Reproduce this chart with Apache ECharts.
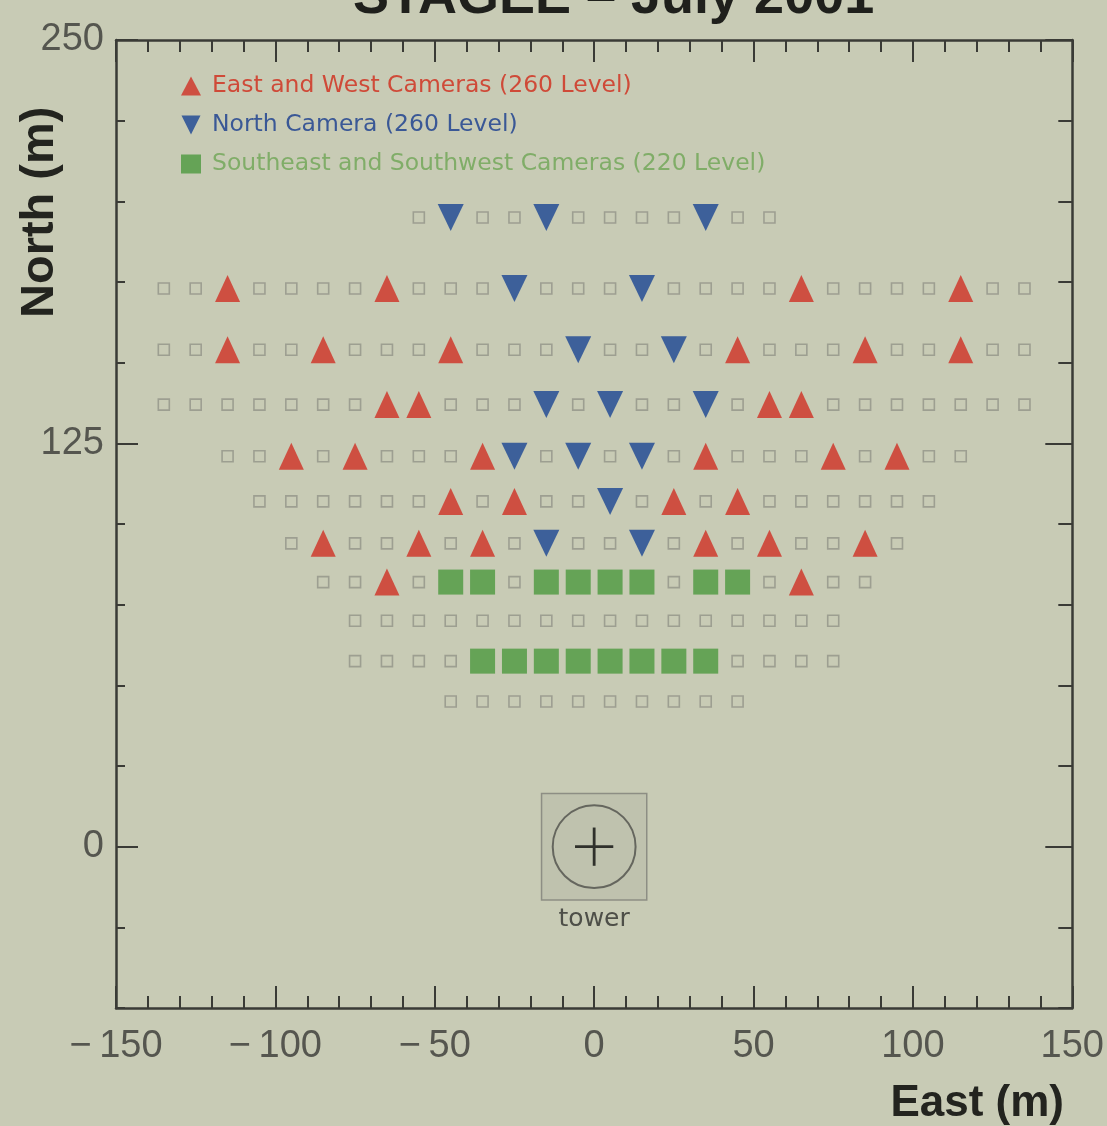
<!DOCTYPE html>
<html>
<head>
<meta charset="utf-8">
<script src="https://cdn.jsdelivr.net/npm/echarts@6/dist/echarts.min.js"></script>
<style>
  html, body { margin: 0; padding: 0; background: #c8cbb5; }
  #chart { width: 1107px; height: 1126px; }
</style>
</head>
<body>
<div id="chart"></div>
<script>
// ---------------- data (metres east / north of the tower) ----------------
const titleText = 'STAGEE \u2013 July 2001';
const xTickLabels = [-150, -100, -50, 0, 50, 100, 150];
const yTickLabels = [0, 125, 250];

const legendNames = [
  'East and West Cameras (260 Level)',
  'North Camera (260 Level)',
  'Southeast and Southwest Cameras (220 Level)'
];

// red upward triangles
const eastWestCams = [
  [-115,173],[-65,173],[65,173],[115,173],
  [-115,154],[-85,154],[-45,154],[45,154],[85,154],[115,154],
  [-65,137],[-55,137],[55,137],[65,137],
  [-95,121],[-75,121],[-35,121],[35,121],[75,121],[95,121],
  [-45,107],[-25,107],[25,107],[45,107],
  [-85,94],[-55,94],[-35,94],[35,94],[55,94],[85,94],
  [-65,82],[65,82]
];
// blue downward triangles
const northCams = [
  [-45,195],[-15,195],[35,195],
  [-25,173],[15,173],
  [-5,154],[25,154],
  [-15,137],[5,137],[35,137],
  [-25,121],[-5,121],[15,121],
  [5,107],
  [-15,94],[15,94]
];
// green filled squares
const southCams = [
  [-45,82],[-35,82],[-15,82],[-5,82],[5,82],[15,82],[35,82],[45,82],
  [-35,57.5],[-25,57.5],[-15,57.5],[-5,57.5],[5,57.5],[15,57.5],[25,57.5],[35,57.5]
];
// hollow sampler squares, row by row
const samplerRowY = [195, 173, 154, 137, 121, 107, 94, 82, 70, 57.5, 45];
const samplerRowX = [
  [-55,-35,-25,-5,5,15,25,45,55],
  [-135,-125,-105,-95,-85,-75,-55,-45,-35,-15,-5,5,25,35,45,55,75,85,95,105,125,135],
  [-135,-125,-105,-95,-75,-65,-55,-35,-25,-15,5,15,35,55,65,75,95,105,125,135],
  [-135,-125,-115,-105,-95,-85,-75,-45,-35,-25,-5,15,25,45,75,85,95,105,115,125,135],
  [-115,-105,-85,-65,-55,-45,-15,5,25,45,55,65,85,105,115],
  [-105,-95,-85,-75,-65,-55,-35,-15,-5,15,35,55,65,75,85,95,105],
  [-95,-75,-65,-45,-25,-5,5,25,45,65,75,95],
  [-85,-75,-55,-25,25,55,75,85],
  [-75,-65,-55,-45,-35,-25,-15,-5,5,15,25,35,45,55,65,75],
  [-75,-65,-55,-45,45,55,65,75],
  [-45,-35,-25,-15,-5,5,15,25,35,45]
];
const towerPos = [[0, 0]];
const towerLabel = 'tower';

// ---------------- build ----------------
const samplers = [];
samplerRowY.forEach((y, i) => samplerRowX[i].forEach(x => samplers.push([x, y])));

const fmtMinus = v => String(v).replace('-', '\u2212\u2009');
const downTri = 'path://M0,0L20,0L10,20Z';
const axisColor = '#3a3b36';
const labelColor = '#55564f';

function yAxisDef(extra) {
  return Object.assign({
    type: 'value', min: -50, max: 250, interval: 25,
    splitLine: { show: false },
    axisLine: { show: true, onZero: false, lineStyle: { color: axisColor, width: 2.5 } }
  }, extra);
}

const chart = echarts.init(document.getElementById('chart'), null, { renderer: 'canvas' });
chart.setOption({
  backgroundColor: '#c8cbb5',
  animation: false,
  title: {
    text: titleText, left: 348, top: -34,
    textStyle: { fontFamily: 'Liberation Sans', fontWeight: 'bold', fontSize: 54, color: '#1f201c' }
  },
  grid: { left: 116, right: 28, top: 40, bottom: 118, containLabel: false },
  legend: {
    orient: 'vertical', left: 176, top: 69, itemGap: 15, itemWidth: 20, itemHeight: 19,
    textStyle: { fontFamily: 'DejaVu Sans', fontSize: 23.5, padding: [0, 0, 0, 6] },
    data: [
      { name: legendNames[0], textStyle: { color: '#cf4a38' } },
      { name: legendNames[1], textStyle: { color: '#3a5896' } },
      { name: legendNames[2], textStyle: { color: '#80ad68' } }
    ]
  },
  xAxis: [
    {
      type: 'value', position: 'bottom', min: -150, max: 150, interval: 50,
      splitLine: { show: false },
      axisLine: { onZero: false, lineStyle: { color: axisColor, width: 2.5 } },
      axisTick: { inside: true, length: 22, lineStyle: { color: axisColor, width: 2 } },
      minorTick: { show: true, splitNumber: 5, length: 12, lineStyle: { color: axisColor, width: 2 } },
      axisLabel: { formatter: fmtMinus, fontFamily: 'Liberation Sans', fontSize: 38, color: labelColor, margin: 20,
                   customValues: xTickLabels }
    },
    {
      type: 'value', position: 'top', min: -150, max: 150, interval: 50,
      splitLine: { show: false },
      axisLine: { onZero: false, lineStyle: { color: axisColor, width: 2.5 } },
      axisTick: { inside: true, length: 22, lineStyle: { color: axisColor, width: 2 } },
      minorTick: { show: true, splitNumber: 5, length: 12, lineStyle: { color: axisColor, width: 2 } },
      axisLabel: { show: false }
    }
  ],
  yAxis: [
    yAxisDef({
      position: 'left',
      axisTick: { inside: true, length: 9, lineStyle: { color: axisColor, width: 2 } },
      axisLabel: { customValues: yTickLabels, fontFamily: 'Liberation Sans', fontSize: 38, color: labelColor, margin: 12 }
    }),
    yAxisDef({
      position: 'left',
      axisLine: { show: false, onZero: false },
      axisTick: { inside: true, length: 22, customValues: yTickLabels, lineStyle: { color: axisColor, width: 2 } },
      axisLabel: { show: false }
    }),
    yAxisDef({
      position: 'right',
      axisTick: { inside: true, length: 14, lineStyle: { color: axisColor, width: 2 } },
      axisLabel: { show: false }
    }),
    yAxisDef({
      position: 'right',
      axisLine: { show: false, onZero: false },
      axisTick: { inside: true, length: 27, customValues: yTickLabels, lineStyle: { color: axisColor, width: 2 } },
      axisLabel: { show: false }
    })
  ],
  graphic: [
    {
      type: 'text', x: 64, y: 318, rotation: Math.PI / 2,
      style: { text: 'North (m)', fontFamily: 'Liberation Sans', fontWeight: 'bold', fontSize: 47,
               fill: '#23241f', textAlign: 'left', textVerticalAlign: 'bottom' }
    },
    {
      type: 'text', right: 43, top: 1082,
      style: { text: 'East (m)', fontFamily: 'Liberation Sans', fontWeight: 'bold', fontSize: 44, fill: '#23241f' }
    }
  ],
  series: [
    {
      type: 'scatter', name: 'samplers', data: samplers, symbol: 'rect', symbolSize: 11, z: 2,
      itemStyle: { color: 'rgba(0,0,0,0)', borderColor: '#929388', borderWidth: 1.6 },
      silent: true
    },
    {
      type: 'scatter', name: legendNames[0], data: eastWestCams, symbol: 'triangle', symbolSize: [25, 27], z: 3,
      itemStyle: { color: '#cf2f24' }
    },
    {
      type: 'scatter', name: legendNames[1], data: northCams, symbol: downTri, symbolSize: [26, 27], z: 3,
      itemStyle: { color: '#1a4594' }
    },
    {
      type: 'scatter', name: legendNames[2], data: southCams, symbol: 'rect', symbolSize: 25, z: 3,
      itemStyle: { color: '#4c983e' }
    },
    {
      type: 'custom', name: 'tower', data: towerPos, z: 2, silent: true,
      renderItem: function (params, api) {
        const x = api.value(0), y = api.value(1);
        const c = api.coord([x, y]);
        const tl = api.coord([x - 16.5, y + 16.5]);
        const br = api.coord([x + 16.5, y - 16.5]);
        const r = api.size([13, 0])[0];
        const arm = api.size([6, 0])[0];
        const lab = api.coord([x, y - 22.5]);
        return {
          type: 'group',
          children: [
            { type: 'rect', shape: { x: tl[0], y: tl[1], width: br[0] - tl[0], height: br[1] - tl[1] },
              style: { fill: 'rgba(90,90,80,0.07)', stroke: '#8d8e84', lineWidth: 1.5 } },
            { type: 'circle', shape: { cx: c[0], cy: c[1], r: r },
              style: { fill: 'none', stroke: '#65665e', lineWidth: 2 } },
            { type: 'line', shape: { x1: c[0] - arm, y1: c[1], x2: c[0] + arm, y2: c[1] },
              style: { stroke: '#2f302b', lineWidth: 2.8 } },
            { type: 'line', shape: { x1: c[0], y1: c[1] - arm, x2: c[0], y2: c[1] + arm },
              style: { stroke: '#2f302b', lineWidth: 2.8 } },
            { type: 'text', x: lab[0], y: lab[1],
              style: { text: towerLabel, fontFamily: 'DejaVu Sans', fontSize: 25, fill: '#4e4f48',
                       textAlign: 'center', textVerticalAlign: 'middle' } }
          ]
        };
      }
    }
  ]
});
</script>
</body>
</html>
